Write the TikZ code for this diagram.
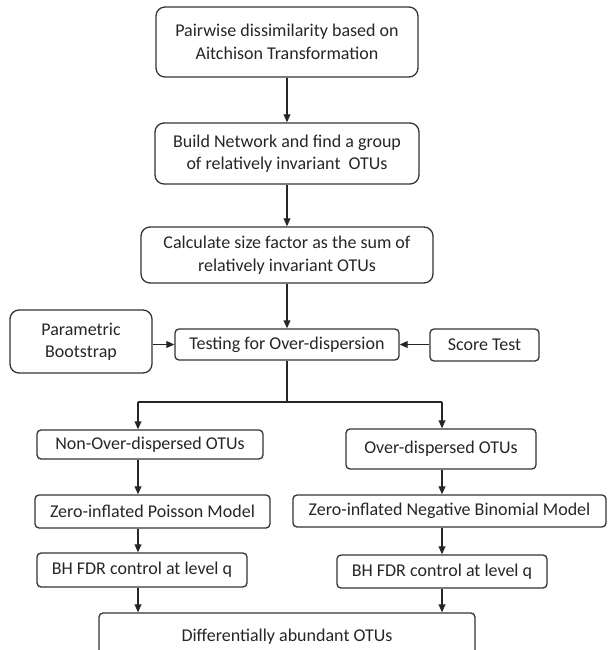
\documentclass[tikz,border=0pt]{standalone}
\usepackage{fontspec}
\setmainfont{Carlito}
\usetikzlibrary{arrows.meta}

\begin{document}
\begin{tikzpicture}[
    x=0.5pt, y=-0.5pt,
    every node/.style={font=\fontsize{9}{11.2}\selectfont, text=black!85, align=center, inner sep=0pt},
    bigbox/.style={draw=black!80, line width=0.65pt, rounded corners=4.5pt},
    smallbox/.style={draw=black!80, line width=0.65pt, rounded corners=2pt},
    arr/.style={-{Triangle[length=4pt,width=3.4pt]}, line width=0.6pt, draw=black!85},
    plain/.style={line width=0.6pt, draw=black!85}
]
\useasboundingbox (0,0) rectangle (609,650);

% --- Main column
\node[bigbox, minimum width=131pt, minimum height=35pt] (pairwise) at (287,42)
    {Pairwise dissimilarity based on\\Aitchison Transformation};
\node[bigbox, minimum width=132pt, minimum height=30.5pt] (network) at (287,153.5)
    {Build Network and find a group\\of relatively invariant\ \ OTUs};
\node[bigbox, minimum width=146pt, minimum height=28pt] (sizefactor) at (287,255)
    {Calculate size factor as the sum of\\relatively invariant OTUs};
\node[smallbox, minimum width=112pt, minimum height=15.5pt] (testing) at (287,344.5)
    {Testing for Over-dispersion};

% --- Tests feeding in from the sides
\node[bigbox, minimum width=71pt, minimum height=31.5pt] (param) at (81,341.5)
    {Parametric\\Bootstrap};
\node[smallbox, minimum width=54.5pt, minimum height=16pt] (score) at (484.5,345)
    {Score Test};

% --- Left branch (no over-dispersion)
\node[smallbox, minimum width=113pt, minimum height=14.5pt] (nonover) at (150,444.5)
    {Non-Over-dispersed OTUs};
\node[smallbox, minimum width=117.5pt, minimum height=16.5pt] (zip) at (152.5,511.5)
    {Zero-inflated Poisson Model};
\node[smallbox, minimum width=105pt, minimum height=17pt] (bhleft) at (142,570)
    {BH FDR control at level q};

% --- Right branch (over-dispersion)
\node[smallbox, minimum width=95pt, minimum height=20pt] (over) at (441,449)
    {Over-dispersed OTUs};
\node[smallbox, minimum width=156.5pt, minimum height=16pt] (zinb) at (449.5,511)
    {Zero-inflated Negative Binomial Model};
\node[smallbox, minimum width=105pt, minimum height=16.5pt] (bhright) at (442,571.5)
    {BH FDR control at level q};

% --- Result (runs off the bottom of the page)
\node[smallbox, minimum width=188pt, minimum height=30pt, text depth=0pt] (result) at (287,643)
    {\raisebox{7.5pt}{Differentially abundant OTUs}};

% Split points
\coordinate (split) at (287,402);
\coordinate (lcol) at (138,402);
\coordinate (rcol) at (442,402);

% Connectors
\draw[arr] (pairwise) -- (network);
\draw[arr] (network) -- (sizefactor);
\draw[arr] (sizefactor) -- (testing);
\draw[arr] (param.east |- testing) -- (testing.west);
\draw[arr] (score.west |- testing) -- (testing.east);
\draw[plain] (testing) -- (split);
\draw[plain] (lcol) -- (rcol);
\draw[arr] (lcol) -- (lcol |- nonover.north);
\draw[arr] (rcol) -- (rcol |- over.north);
\draw[arr] (nonover.south -| lcol) -- (zip.north -| lcol);
\draw[arr] (over.south -| rcol) -- (zinb.north -| rcol);
\draw[arr] (zip.south -| lcol) -- (bhleft.north -| lcol);
\draw[arr] (zinb.south -| rcol) -- (bhright.north -| rcol);
\draw[arr] (bhleft.south -| lcol) -- (result.north -| lcol);
\draw[arr] (bhright.south -| rcol) -- (result.north -| rcol);
\end{tikzpicture}
\end{document}
